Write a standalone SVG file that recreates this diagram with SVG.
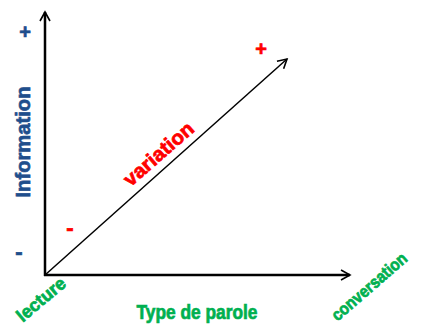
<svg xmlns="http://www.w3.org/2000/svg" width="423" height="327" viewBox="0 0 423 327">
<style>
.ax{stroke:#000;stroke-width:2.5;fill:none}
.dg{stroke:#000;stroke-width:1.5;fill:none}
.t{font-family:"Liberation Sans",Arial,sans-serif;font-weight:bold;stroke-width:0.7}
.blue{fill:#1F4E8C;stroke:#1F4E8C}
.green{fill:#00B050;stroke:#00B050}
.red{fill:#FF0000;stroke:#FF0000}
</style>
<defs>
<marker id="ah" viewBox="0 0 12 12" refX="10" refY="6" markerWidth="12" markerHeight="12" markerUnits="userSpaceOnUse" orient="auto">
<path d="M1,1 L10,6 L1,11" fill="none" stroke="#000" stroke-width="1.6"/>
</marker>
</defs>
<g id="connectors">
<line class="ax" x1="45" y1="276" x2="45" y2="12" marker-end="url(#ah)"/>
<line class="ax" x1="44" y1="275" x2="350" y2="275" marker-end="url(#ah)"/>
<line class="dg" x1="45" y1="275" x2="287" y2="59" marker-end="url(#ah)"/>
</g>
<g id="y-axis-label">
<text class="t blue" transform="translate(30,142) rotate(-90)" text-anchor="middle" font-size="21" textLength="111" lengthAdjust="spacingAndGlyphs">Information</text>
</g>
<g id="y-plus"><text class="t blue" x="25" y="39" text-anchor="middle" font-size="20">+</text></g>
<g id="y-minus"><text class="t blue" x="19" y="259" text-anchor="middle" font-size="22">-</text></g>
<g id="x-axis-label">
<text class="t green" x="197" y="319" text-anchor="middle" font-size="20" textLength="121" lengthAdjust="spacingAndGlyphs">Type de parole</text>
</g>
<g id="lecture">
<text class="t green" transform="translate(45,304) rotate(-40)" text-anchor="middle" font-size="18" textLength="58" lengthAdjust="spacingAndGlyphs">lecture</text>
</g>
<g id="conversation">
<text class="t green" transform="translate(373,291) rotate(-41)" text-anchor="middle" font-size="17" textLength="94" lengthAdjust="spacingAndGlyphs">conversation</text>
</g>
<g id="variation">
<text class="t red" transform="translate(163,159) rotate(-41)" text-anchor="middle" font-size="20" textLength="86" lengthAdjust="spacingAndGlyphs">variation</text>
</g>
<g id="plus-red"><text class="t red" x="261" y="56" text-anchor="middle" font-size="20">+</text></g>
<g id="minus-red"><text class="t red" x="70" y="235" text-anchor="middle" font-size="22">-</text></g>
</svg>
